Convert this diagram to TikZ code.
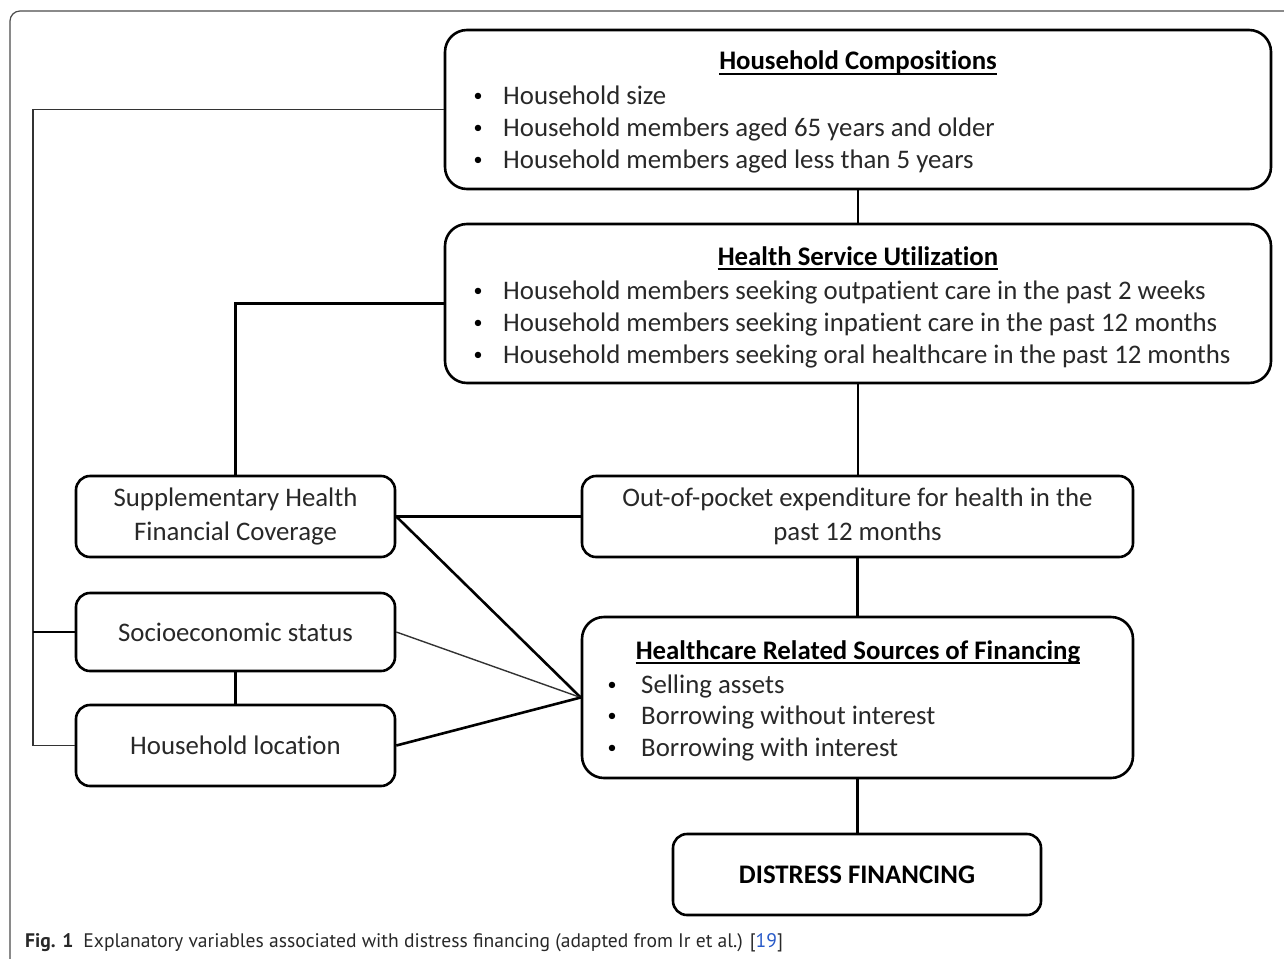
\documentclass[tikz,border=0pt]{standalone}
\usepackage{fontspec}
\setmainfont{Carlito}[Ligatures=NoCommon]
\newfontfamily\capfont{PT Sans}
\usetikzlibrary{calc}
\definecolor{linkblue}{RGB}{40,90,200}
\definecolor{txtgray}{RGB}{40,40,40}
\begin{document}
\begin{tikzpicture}[x=1pt,y=-1pt,
  bigbox/.style={draw, line width=2.6pt, rounded corners=22pt, inner sep=0pt},
  smallbox/.style={draw, line width=2.6pt, rounded corners=14pt, inner sep=0pt, align=center,
    text=txtgray, font=\fontsize{26.8}{34}\selectfont},
  conn/.style={line width=2.6pt},
  thinconn/.style={line width=1.4pt, black!80},
  txt/.style={inner sep=0pt, text=txtgray, font=\fontsize{26.8}{32}\selectfont},
  ttl/.style={inner sep=0pt, font=\fontsize{26.8}{32}\selectfont\bfseries},
  bul/.style={inner sep=0pt, font=\fontsize{18}{22}\selectfont},
]
\useasboundingbox (0,0) rectangle (1284,958);
% outer frame
\draw[black!70, line width=1.2pt, rounded corners=10pt] (10,960) -- (10,11) -- (1290,11);

% boxes
\node[bigbox, minimum width=826pt, minimum height=159pt] (hc) at (858,109.5) {};
\node[bigbox, minimum width=826pt, minimum height=159pt] (hsu) at (858,303.5) {};
\node[smallbox, minimum width=319pt, minimum height=81pt] (supp) at (235.5,516.5) {Supplementary Health\\Financial Coverage};
\node[smallbox, minimum width=319pt, minimum height=78pt] (socio) at (235.5,632) {Socioeconomic status};
\node[smallbox, minimum width=319pt, minimum height=81pt] (loc) at (235.5,745.5) {Household location};
\node[smallbox, minimum width=551pt, minimum height=81pt] (oop) at (857.5,516.5) {Out-of-pocket expenditure for health in the\\past 12 months};
\node[bigbox, minimum width=551pt, minimum height=161pt] (hrsf) at (857.5,697.5) {};
\node[smallbox, minimum width=368pt, minimum height=81pt, text=black, font=\fontsize{26.8}{34}\selectfont\bfseries] (df) at (857,874.5) {DISTRESS FINANCING};

% Household Compositions text
\node[ttl, anchor=base] (hct) at (858,70) {Household Compositions};
\draw[line width=1.8pt] ([yshift=-4pt]hct.base west) -- ([yshift=-4pt]hct.base east);
\node[bul, anchor=base] (hb1) at (478,101) {•};
\node[bul, anchor=base] (hb2) at (478,133) {•};
\node[bul, anchor=base] (hb3) at (478,165) {•};
\node[txt, anchor=base west] (h1) at (503,104) {Household size};
\node[txt, anchor=base west] (h2) at (503,136) {Household members aged 65 years and older};
\node[txt, anchor=base west] (h3) at (503,168) {Household members aged less than 5 years};

% Health Service Utilization text
\node[ttl, anchor=base] (hsut) at (858,265) {Health Service Utilization};
\draw[line width=1.8pt] ([yshift=-4pt]hsut.base west) -- ([yshift=-4pt]hsut.base east);
\node[bul, anchor=base] (sb1) at (478,296) {•};
\node[bul, anchor=base] (sb2) at (478,328) {•};
\node[bul, anchor=base] (sb3) at (478,360) {•};
\node[txt, anchor=base west] (s1) at (503,299) {Household members seeking outpatient care in the past 2 weeks};
\node[txt, anchor=base west] (s2) at (503,331) {Household members seeking inpatient care in the past 12 months};
\node[txt, anchor=base west] (s3) at (503,363) {Household members seeking oral healthcare in the past 12 months};

% Healthcare Related Sources of Financing text
\node[ttl, anchor=base] (hrt) at (858,659) {Healthcare Related Sources of Financing};
\draw[line width=1.8pt] ([yshift=-4pt]hrt.base west) -- ([yshift=-4pt]hrt.base east);
\node[bul, anchor=base] (rb1) at (612,690) {•};
\node[bul, anchor=base] (rb2) at (612,721) {•};
\node[bul, anchor=base] (rb3) at (612,753) {•};
\node[txt, anchor=base west] (r1) at (641,693) {Selling assets};
\node[txt, anchor=base west] (r2) at (641,724) {Borrowing without interest};
\node[txt, anchor=base west] (r3) at (641,756) {Borrowing with interest};

% connectors
\coordinate (bus) at (33,109.5);
\draw[thinconn] (hc.west) -- (bus) |- (loc.west);
\draw[conn] (socio.west) -- (socio.west -| bus);
\draw[conn] (hsu.west) -| (supp.north);
\draw[conn] (hc.south) -- (hsu.north);
\draw[conn] (hsu.south) -- (hsu.south |- oop.north);
\draw[conn] (oop.south) -- (hrsf.north);
\draw[conn] (hrsf.south) -- (hrsf.south |- df.north);
\draw[conn] (supp.east) -- (oop.west);
\draw[conn] (supp.east) -- (hrsf.west);
\draw[thinconn] (socio.east) -- (hrsf.west);
\draw[conn] (loc.east) -- (hrsf.west);
\draw[conn] (socio.south) -- (loc.north);

% caption
\node[anchor=base west, inner sep=0pt, text=txtgray, font=\capfont\fontsize{19.6}{22}\selectfont] (cap) at (25,947)
  {\textbf{Fig. 1}\hspace{10pt}Explanatory variables associated with distress financing (adapted from Ir et al.) [\textcolor{linkblue}{19}]};
\end{tikzpicture}
\end{document}
